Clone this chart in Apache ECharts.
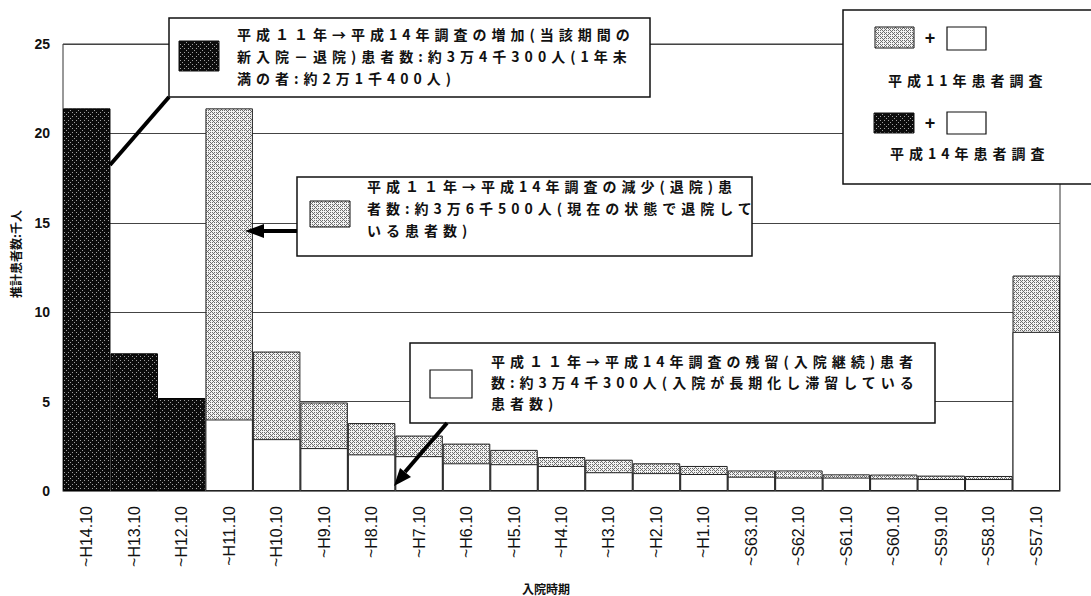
<!DOCTYPE html>
<html><head><meta charset="utf-8">
<script src="https://cdn.jsdelivr.net/npm/echarts@6/dist/echarts.min.js"></script>
<style>
html,body{margin:0;padding:0;background:#fff;}
#c{width:1091px;height:596px;}
text[style*="CJK KR"]{letter-spacing:5px;}
</style></head><body><div id="c"></div>
<script>
// ---- data (千人) ----
const categories = ['~H14.10','~H13.10','~H12.10','~H11.10','~H10.10','~H9.10','~H8.10','~H7.10','~H6.10','~H5.10','~H4.10','~H3.10','~H2.10','~H1.10','~S63.10','~S62.10','~S61.10','~S60.10','~S59.10','~S58.10','~S57.10'];
// 平成14年調査: 当該期間の新入院 (black)
const newAdmissions2002 = [21.4, 7.7, 5.2, '-', '-', '-', '-', '-', '-', '-', '-', '-', '-', '-', '-', '-', '-', '-', '-', '-', '-'];
// 平成11年患者調査 (gray, full height)
const survey1999 = ['-', '-', '-', 21.4, 7.8, 4.95, 3.8, 3.1, 2.65, 2.3, 1.9, 1.75, 1.55, 1.4, 1.15, 1.15, 0.93, 0.92, 0.86, 0.84, 12.05];
// 平成14年調査: 残留 (white)
const remaining2002 = ['-', '-', '-', 4.0, 2.9, 2.4, 2.05, 1.95, 1.55, 1.5, 1.4, 1.05, 1.0, 0.95, 0.8, 0.75, 0.75, 0.7, 0.67, 0.67, 8.9];
const yMin = 0, yMax = 25, yStep = 5;

const box1Text = ['平成１１年→平成14年調査の増加(当該期間の', '新入院－退院)患者数:約3万4千300人(1年未', '満の者:約2万1千400人)'];
const box2Text = ['平成１１年→平成14年調査の減少(退院)患', '者数:約3万6千500人(現在の状態で退院して', 'いる患者数)'];
const box3Text = ['平成１１年→平成14年調査の残留(入院継続)患者', '数:約3万4千300人(入院が長期化し滞留している', '患者数)'];
const legend1 = '平成11年患者調査';
const legend2 = '平成14年患者調査';
const yName = '推計患者数:千人';
const xName = '入院時期';

// ---- textures (ordered dither) ----
const bayer = [[0,8,2,10],[12,4,14,6],[3,11,1,9],[15,7,13,5]];
function makePattern(size, dark, light, isDark) {
  const c = document.createElement('canvas'); c.width = size; c.height = size;
  const ctx = c.getContext('2d');
  for (let y = 0; y < size; y++) for (let x = 0; x < size; x++) {
    ctx.fillStyle = isDark(x, y) ? dark : light; ctx.fillRect(x, y, 1, 1);
  }
  return { image: c, repeat: 'repeat', imageWidth: size, imageHeight: size };
}
const grayPat = makePattern(8, '#6c6c6c', '#f2f2f2', (x, y) => bayer[y % 4][x % 4] < 5 + ((x >> 2) + (y >> 2)) % 2);
const blackPat = makePattern(8, '#0c0c0c', '#a0a0a0', (x, y) => bayer[y % 4][x % 4] >= 2 - ((x >> 2) + (y >> 2)) % 2);

const annFont = "'Noto Sans CJK JP','Noto Sans CJK KR',sans-serif";
const axFont = "'Noto Sans CJK JP',sans-serif";

function txt(lines, x, y, lh) {
  return { type: 'text', z: 110, x: x, y: y,
    style: { text: lines.join('\n'), fontSize: 14, fontWeight: 'bold', fontFamily: annFont, fill: '#111',
      lineHeight: lh, textAlign: 'left', textVerticalAlign: 'top', align: 'left', verticalAlign: 'top' } };
}
function rect(x, y, w, h, fill, lw) {
  return { type: 'rect', z: 100, shape: { x: x, y: y, width: w, height: h },
    style: { fill: fill, stroke: '#111', lineWidth: lw || 1.5 } };
}
function line(x1, y1, x2, y2, lw) {
  return { type: 'line', z: 105, shape: { x1: x1, y1: y1, x2: x2, y2: y2 }, style: { stroke: '#000', lineWidth: lw } };
}
function tri(pts) {
  return { type: 'polygon', z: 105, shape: { points: pts }, style: { fill: '#000' } };
}
function plus(x, y) {
  return { type: 'text', z: 110, x: x, y: y, style: { text: '+', fontSize: 18, fontWeight: 'bold', fontFamily: 'Liberation Sans', fill: '#111',
    textAlign: 'center', textVerticalAlign: 'middle', align: 'center', verticalAlign: 'middle' } };
}

const chart = echarts.init(document.getElementById('c'), null, { renderer: 'svg' });
chart.setOption({
  animation: false,
  backgroundColor: '#fff',
  grid: { left: 63, right: 31, top: 44, bottom: 105, containLabel: false, outerBoundsMode: 'none',
    show: true, borderColor: '#333', borderWidth: 1, backgroundColor: 'transparent' },
  xAxis: {
    type: 'category', data: categories,
    axisLine: { show: true, lineStyle: { color: '#777', width: 1 } },
    axisTick: { show: false },
    axisLabel: { rotate: 90, margin: 15, fontSize: 16, fontFamily: 'Liberation Sans', color: '#111', interval: 0 }
  },
  yAxis: {
    type: 'value', min: yMin, max: yMax, interval: yStep,
    axisLine: { show: false }, axisTick: { show: false },
    axisLabel: { margin: 13, fontSize: 14, fontWeight: 'bold', fontFamily: 'Liberation Sans', color: '#111' },
    splitLine: { show: true, lineStyle: { color: '#444', width: 1 } }
  },
  series: [
    { name: '平成14年調査 新入院', type: 'bar', data: newAdmissions2002, barGap: '-100%', barCategoryGap: '0%',
      itemStyle: { color: blackPat, borderColor: '#000', borderWidth: 1 } },
    { name: legend1, type: 'bar', data: survey1999, barGap: '-100%', barCategoryGap: '0%',
      itemStyle: { color: grayPat, borderColor: '#222', borderWidth: 1 } },
    { name: '平成14年調査 残留', type: 'bar', data: remaining2002, barGap: '-100%', barCategoryGap: '0%',
      itemStyle: { color: '#fff', borderColor: '#222', borderWidth: 1 } }
  ],
  graphic: { elements: [
    // axis names
    { type: 'text', z: 110, x: 15, y: 254, rotation: Math.PI / 2,
      style: { text: yName, fontSize: 12, fontWeight: 'bold', fontFamily: axFont, fill: '#111',
        textAlign: 'center', textVerticalAlign: 'middle', align: 'center', verticalAlign: 'middle' } },
    { type: 'text', z: 110, x: 546, y: 588,
      style: { text: xName, fontSize: 12, fontWeight: 'bold', fontFamily: axFont, fill: '#111',
        textAlign: 'center', textVerticalAlign: 'middle', align: 'center', verticalAlign: 'middle' } },
    // box 1 (increase)
    line(169, 97, 110, 165, 4),
    rect(169, 18, 481, 79, '#fff'),
    rect(179, 41, 40, 30, blackPat, 1),
    txt(box1Text, 237, 23, 22),
    // box 2 (decrease)
    line(297, 231, 262, 231, 4),
    tri([[245, 231], [264, 224], [264, 238]]),
    rect(297, 177, 455, 79, '#fff'),
    rect(310, 201, 40, 26, grayPat, 1),
    txt(box2Text, 367, 175, 22),
    // box 3 (remaining)
    line(447, 423, 405, 472, 4),
    tri([[394, 486], [411, 477], [400, 468]]),
    rect(410, 343, 525, 80, '#fff'),
    rect(430, 370, 42, 28, '#fff', 1.2),
    txt(box3Text, 491, 350, 21),
    // legend
    rect(843, 10, 260, 174, '#fff'),
    rect(875, 27, 39, 21, grayPat, 1),
    plus(930, 38),
    rect(947, 27, 39, 23, '#fff', 1.2),
    txt([legend1], 888, 70, 20),
    rect(874, 113, 40, 20, blackPat, 1),
    plus(930, 123),
    rect(947, 112, 39, 22, '#fff', 1.2),
    txt([legend2], 890, 143, 20)
  ] }
});
</script></body></html>
